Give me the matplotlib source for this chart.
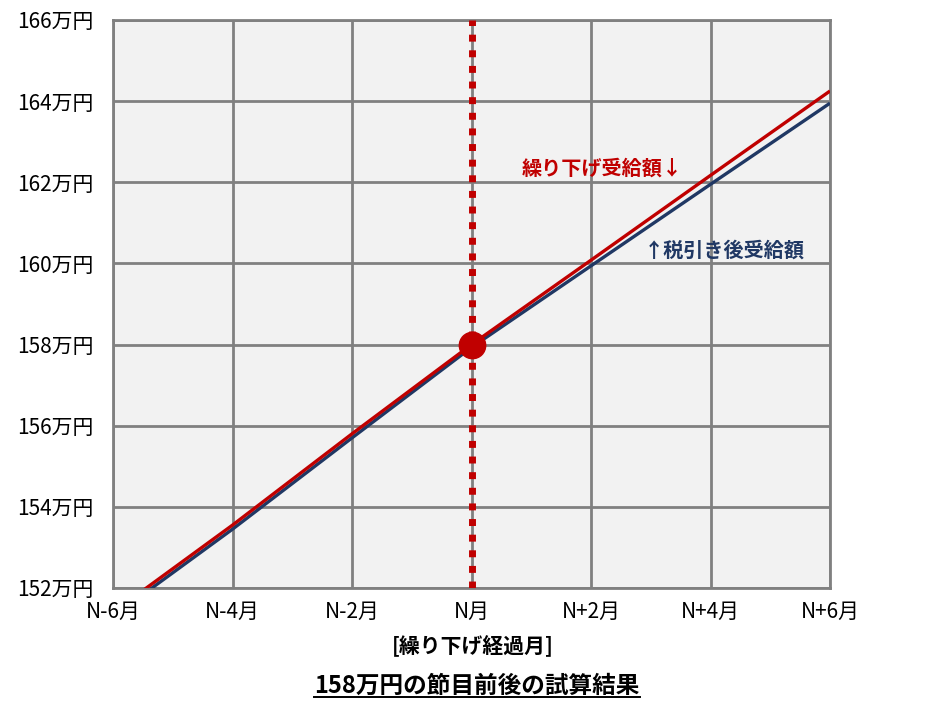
import matplotlib
matplotlib.use("Agg")
import matplotlib.pyplot as plt
from matplotlib.lines import Line2D

plt.rcParams['font.family'] = ['Noto Sans CJK JP', 'DejaVu Sans']

# data
months = [-6, -4, -2, 0, 2, 4, 6]
month_labels = ["N-6月", "N-4月", "N-2月", "N月", "N+2月", "N+4月", "N+6月"]
deferred = [151.4, 153.55, 155.8, 158.0, 160.08, 162.17, 164.25]   # 繰り下げ受給額
after_tax = [151.3, 153.45, 155.7, 157.93, 159.94, 161.95, 163.95]  # 税引き後受給額
y_ticks = [152, 154, 156, 158, 160, 162, 164, 166]
threshold = 158.0

RED = "#C00000"
NAVY = "#203864"
GRID = "#808080"

fig = plt.figure(figsize=(9.3, 7.08), dpi=100)
ax = fig.add_axes([113 / 930, 1 - 588 / 708, 717 / 930, 568 / 708])
ax.set_facecolor("#F2F2F2")

ax.plot(months, after_tax, color=NAVY, lw=2.4, solid_capstyle="butt", zorder=3)
ax.plot(months, deferred, color=RED, lw=2.4, solid_capstyle="butt", zorder=4)

# threshold marker
ax.axvline(0, color=RED, lw=5, linestyle=(0, (1.0, 1.25)), zorder=5)
ax.plot([0], [threshold], "o", color=RED, markersize=19, zorder=6)

ax.set_xlim(-6, 6)
ax.set_ylim(152, 166)
ax.set_xticks(months)
ax.set_xticklabels(month_labels, fontsize=15)
ax.set_yticks(y_ticks)
ax.set_yticklabels([f"{v}万円" for v in y_ticks], fontsize=15)
ax.tick_params(length=0)
ax.tick_params(axis="y", pad=14)
ax.tick_params(axis="x", pad=9)
ax.grid(True, color=GRID, lw=2, zorder=0)
ax.set_axisbelow(True)
for s in ax.spines.values():
    s.set_color(GRID)
    s.set_linewidth(2)

ax.text(2.18, 162.35, "繰り下げ受給額↓", color=RED, fontsize=14.5, fontweight="bold",
        ha="center", va="center")
ax.text(4.23, 160.33, "↑税引き後受給額", color=NAVY, fontsize=14.5, fontweight="bold",
        ha="center", va="center")

fig.text(473 / 930, 1 - 646 / 708, "[繰り下げ経過月]", fontsize=15, fontweight="bold",
         ha="center", va="center")
title = fig.text(477 / 930, 1 - 686 / 708, "158万円の節目前後の試算結果", fontsize=17,
                 fontweight="bold", ha="center", va="center")

# underline the title
fig.canvas.draw()
bb = title.get_window_extent(fig.canvas.get_renderer())
uy = (bb.y0 + 1) / fig.bbox.height
fig.add_artist(Line2D([bb.x0 / fig.bbox.width, bb.x1 / fig.bbox.width], [uy, uy],
                      color="black", lw=1.4, transform=fig.transFigure))

fig.savefig("out.png", dpi=100)
